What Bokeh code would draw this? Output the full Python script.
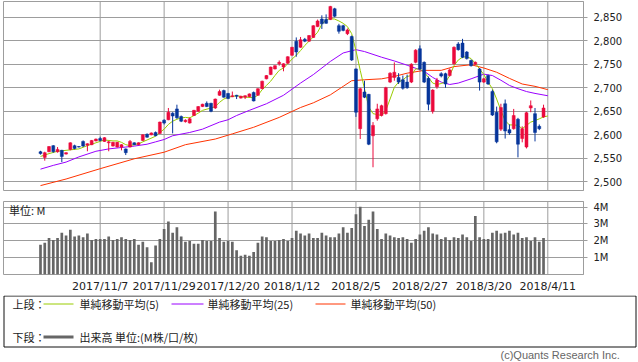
import numpy as np
import pandas as pd
from bokeh.plotting import figure
from bokeh.models import ColumnDataSource, Range1d, FixedTicker, Label, NumeralTickFormatter, Span
from bokeh.layouts import column
from bokeh.embed import file_html
from bokeh.resources import INLINE
from bokeh.core.properties import value

# ---------------- data ----------------
tick_pos = [14, 29, 44, 59, 74, 89, 104, 119]
tick_labels = ["2017/11/7", "2017/11/29", "2017/12/20", "2018/1/12",
               "2018/2/5", "2018/2/27", "2018/3/20", "2018/4/11"]

opens = [2564, 2552, 2564, 2577, 2564, 2567, 2559, 2569, 2577, 2575,
         2586, 2578, 2579, 2587, 2592, 2586, 2583, 2576, 2574, 2574,
         2570, 2574, 2583, 2579, 2588, 2601, 2600, 2605, 2603, 2631,
         2632, 2646, 2655, 2639, 2628, 2625, 2641, 2650, 2660, 2667,
         2667, 2657, 2684, 2694, 2688, 2681, 2684, 2678, 2680, 2681,
         2690, 2684, 2698, 2719, 2728, 2740, 2751, 2744, 2752, 2769,
         2799, 2786, 2803, 2799, 2807, 2830, 2846, 2845, 2845, 2868,
         2832, 2832, 2815, 2809, 2740, 2613, 2691, 2686, 2598, 2634,
         2641, 2645, 2712, 2722, 2722, 2717, 2712, 2712, 2754, 2783,
         2754, 2720, 2650, 2702, 2730, 2730, 2726, 2751, 2793, 2795,
         2776, 2758, 2750, 2740, 2712, 2726, 2692, 2648, 2612, 2666,
         2611, 2613, 2633, 2592, 2574, 2657, 2645, 2618, 2638]
highs = [2566, 2564, 2576, 2578, 2574, 2568, 2563, 2584, 2579, 2576,
         2588, 2582, 2589, 2592, 2596, 2595, 2587, 2585, 2585, 2580,
         2571, 2589, 2584, 2584, 2601, 2603, 2605, 2607, 2628, 2633,
         2657, 2648, 2664, 2641, 2633, 2637, 2653, 2661, 2666, 2671,
         2668, 2677, 2696, 2696, 2689, 2692, 2685, 2683, 2684, 2688,
         2692, 2699, 2715, 2727, 2745, 2748, 2758, 2752, 2767, 2787,
         2807, 2808, 2806, 2812, 2833, 2845, 2854, 2856, 2874, 2870,
         2836, 2834, 2826, 2811, 2741, 2700, 2715, 2687, 2627, 2666,
         2664, 2702, 2733, 2754, 2731, 2726, 2728, 2752, 2782, 2790,
         2756, 2724, 2697, 2721, 2733, 2732, 2741, 2788, 2797, 2804,
         2778, 2760, 2756, 2742, 2721, 2728, 2696, 2660, 2666, 2675,
         2622, 2655, 2636, 2618, 2649, 2673, 2657, 2622, 2664]
lows = [2558, 2545, 2563, 2562, 2562, 2542, 2558, 2567, 2569, 2573,
        2574, 2565, 2578, 2586, 2586, 2585, 2565, 2575, 2573, 2567,
        2557, 2573, 2578, 2578, 2587, 2594, 2599, 2597, 2602, 2622,
        2631, 2603, 2634, 2627, 2626, 2624, 2640, 2649, 2659, 2659,
        2648, 2655, 2683, 2679, 2676, 2680, 2676, 2677, 2676, 2680,
        2671, 2683, 2697, 2718, 2727, 2739, 2747, 2735, 2751, 2768,
        2766, 2785, 2797, 2798, 2806, 2829, 2825, 2836, 2844, 2850,
        2815, 2820, 2812, 2757, 2638, 2591, 2678, 2578, 2531, 2630,
        2639, 2643, 2710, 2715, 2708, 2696, 2698, 2710, 2752, 2738,
        2710, 2652, 2645, 2698, 2722, 2700, 2724, 2749, 2779, 2763,
        2760, 2745, 2748, 2694, 2710, 2706, 2640, 2582, 2608, 2592,
        2600, 2611, 2552, 2584, 2571, 2648, 2586, 2610, 2636]
closes = [2560, 2562, 2575, 2564, 2569, 2554, 2562, 2583, 2571, 2574,
          2576, 2581, 2588, 2591, 2588, 2594, 2585, 2584, 2584, 2579,
          2562, 2586, 2579, 2583, 2600, 2595, 2604, 2598, 2627, 2625,
          2648, 2640, 2636, 2629, 2631, 2634, 2652, 2660, 2665, 2660,
          2650, 2676, 2692, 2680, 2677, 2683, 2682, 2682, 2683, 2687,
          2672, 2698, 2714, 2726, 2744, 2747, 2754, 2751, 2766, 2786,
          2776, 2802, 2799, 2811, 2832, 2842, 2836, 2837, 2873, 2852,
          2820, 2822, 2823, 2759, 2648, 2698, 2680, 2580, 2620, 2655,
          2662, 2700, 2731, 2733, 2712, 2699, 2700, 2750, 2780, 2740,
          2712, 2665, 2695, 2716, 2725, 2708, 2738, 2786, 2781, 2765,
          2762, 2747, 2754, 2712, 2719, 2708, 2642, 2585, 2658, 2608,
          2604, 2641, 2580, 2613, 2647, 2662, 2605, 2613, 2657]

# volume, millions
volumes = [1.77, 1.88, 2.16, 2.05, 2.16, 2.48, 2.32, 2.65, 2.26, 2.32,
           2.21, 2.43, 2.05, 2.10, 2.10, 2.10, 2.26, 2.05, 2.10, 2.21,
           2.10, 2.05, 2.10, 1.77, 1.94, 1.61, 0.73, 1.72, 2.10, 2.70,
           3.14, 2.48, 2.81, 2.26, 1.94, 1.99, 1.83, 1.83, 2.05, 1.99,
           1.99, 3.74, 2.16, 1.94, 1.99, 1.94, 1.44, 1.11, 1.17, 1.11,
           1.33, 1.88, 2.26, 2.21, 1.99, 1.99, 2.05, 2.10, 1.99, 2.16,
           2.59, 2.43, 2.32, 2.43, 2.16, 2.16, 2.48, 2.32, 2.21, 2.21,
           2.43, 2.81, 2.48, 2.76, 3.58, 4.02, 2.87, 3.25, 3.74, 2.70,
           2.10, 2.43, 2.32, 2.21, 2.16, 2.21, 2.10, 1.88, 2.10, 2.37,
           2.59, 2.81, 2.43, 2.37, 2.10, 2.21, 2.05, 2.21, 2.16, 2.37,
           2.21, 1.99, 3.47, 2.21, 2.10, 2.10, 2.48, 2.59, 2.43, 2.48,
           2.59, 2.37, 2.48, 2.16, 2.21, 1.99, 2.21, 1.94, 2.16]

ma5_x = [0, 2, 4, 5, 7, 9, 11, 13, 14, 15, 17, 18, 19, 20, 21, 22, 23, 25, 27, 28,
         29, 30, 31, 32, 33, 34, 35, 36, 37, 38, 40, 41, 42, 43, 44, 46, 48, 50, 51, 52,
         53, 54, 55, 56, 57, 58, 59, 60, 61, 62, 63, 64, 65, 66, 67, 68, 69, 70, 71, 72,
         73, 74, 75, 76, 77, 78, 79, 80, 81, 82, 83, 84, 85, 86, 87, 88, 89, 90, 91, 92,
         93, 94, 95, 96, 97, 98, 99, 100, 101, 102, 103, 104, 105, 106, 107, 108, 109, 110, 111, 112,
         113, 114, 115, 116, 117, 118, 119]
ma5 = [2554, 2560, 2565, 2566, 2568, 2570, 2577, 2583, 2586, 2589, 2587, 2587, 2584, 2579, 2577, 2579, 2581, 2589, 2597, 2605,
       2612, 2622, 2629, 2633, 2636, 2637, 2636, 2641, 2646, 2652, 2657, 2660, 2669, 2676, 2680, 2683, 2680, 2679, 2684, 2696,
       2705, 2714, 2726, 2737, 2742, 2751, 2761, 2769, 2779, 2790, 2799, 2808, 2818, 2835, 2845, 2847, 2846, 2842, 2837, 2830,
       2815, 2779, 2737, 2698, 2659, 2645, 2643, 2641, 2652, 2676, 2701, 2712, 2717, 2724, 2726, 2740, 2740, 2733, 2722, 2710,
       2707, 2709, 2712, 2726, 2747, 2759, 2765, 2766, 2762, 2752, 2740, 2728, 2712, 2698, 2676, 2652, 2630, 2621, 2621, 2620,
       2613, 2620, 2627, 2630, 2634, 2638, 2640]

ma25_x = [0, 3, 6, 9, 13, 16, 20, 22, 25, 27, 29, 31, 35, 38, 42, 44, 46, 49, 53, 57,
          61, 64, 68, 71, 74, 76, 80, 83, 86, 90, 92, 94, 96, 98, 101, 104, 106, 108, 110, 112,
          114, 116, 119]
ma25 = [2527, 2535, 2542, 2553, 2565, 2570, 2574, 2576, 2580, 2585, 2590, 2598, 2605, 2612, 2627, 2632, 2641, 2652, 2666, 2684,
        2710, 2728, 2756, 2774, 2781, 2777, 2765, 2757, 2748, 2735, 2722, 2712, 2707, 2710, 2719, 2729, 2726, 2716, 2705, 2698,
        2692, 2688, 2683]

ma50_x = [0, 6, 14, 22, 29, 34, 41, 45, 50, 56, 61, 64, 68, 71, 73, 76, 80, 83, 86, 90,
          94, 97, 101, 104, 107, 110, 113, 116, 119]
ma50 = [2492, 2506, 2528, 2549, 2563, 2579, 2591, 2602, 2616, 2637, 2658, 2668, 2685, 2703, 2715, 2717, 2719, 2724, 2731, 2737,
        2737, 2745, 2749, 2742, 2733, 2720, 2708, 2703, 2696]

price_ticks = [2500, 2550, 2600, 2650, 2700, 2750, 2800, 2850]
vol_ticks = [1, 2, 3, 4]
vol_tick_labels = ["1M", "2M", "3M", "4M"]

# ---------------- styles ----------------
UP = "#EB0A3C"
DOWN = "#06359A"
GRID = "#9d9d9d"
NUM_FONT = "DejaVu Sans"
JP_FONT = "Noto Sans CJK JP"
W = 638

px_per_bar = 4.263
x_start = (3 - 40) / px_per_bar
x_end = x_start + 580 / px_per_bar
xr = Range1d(x_start, x_end)

idx = np.arange(len(opens))
df = pd.DataFrame(dict(x=idx, o=opens, h=highs, l=lows, c=closes))
df["top"] = df[["o", "c"]].max(axis=1)
df["bottom"] = df[["o", "c"]].min(axis=1)
up = ColumnDataSource(df[df.c >= df.o])
dn = ColumnDataSource(df[df.c < df.o])


def style_right_axis(ax):
    ax.axis_line_color = GRID
    ax.major_tick_line_color = GRID
    ax.major_tick_in = 0
    ax.major_tick_out = 4
    ax.minor_tick_line_color = None
    ax.major_label_standoff = 6
    ax.major_label_text_font = NUM_FONT
    ax.major_label_text_font_size = "10px"
    ax.major_label_text_color = "#222222"


def add_vgrid(p):
    for t in tick_pos:
        p.add_layout(Span(location=t, dimension="height", line_color=GRID,
                          line_width=1, level="underlay"))


# ---------------- price panel ----------------
p1 = figure(width=W, height=195, x_range=xr, y_range=Range1d(2481.6, 2883.4),
            output_backend="svg", toolbar_location=None,
            x_axis_location=None, y_axis_location="right",
            min_border_left=3, min_border_right=55, min_border_top=1, min_border_bottom=5)
p1.outline_line_color = GRID
p1.xgrid.visible = False
p1.ygrid.ticker = FixedTicker(ticks=price_ticks)
p1.ygrid.grid_line_color = GRID
p1.yaxis.ticker = FixedTicker(ticks=price_ticks)
p1.yaxis.formatter = NumeralTickFormatter(format="0,0")
style_right_axis(p1.yaxis)
add_vgrid(p1)

p1.line(ma50_x, ma50, line_color="#FF3300", line_width=1)
p1.line(ma25_x, ma25, line_color="#9A00FF", line_width=1)
p1.line(ma5_x, ma5, line_color="#99CC00", line_width=1)

p1.segment(x0="x", y0="h", x1="x", y1="l", source=up, line_color=UP, line_width=1)
p1.segment(x0="x", y0="h", x1="x", y1="l", source=dn, line_color=DOWN, line_width=1)
p1.vbar(x="x", top="top", bottom="bottom", width=0.7, source=up,
        fill_color=UP, line_color=UP, line_width=0.5)
p1.vbar(x="x", top="top", bottom="bottom", width=0.7, source=dn,
        fill_color=DOWN, line_color=DOWN, line_width=0.5)

# ---------------- volume panel ----------------
p2 = figure(width=W, height=100, x_range=xr, y_range=Range1d(0, 4.33),
            output_backend="svg", toolbar_location=None,
            y_axis_location="right",
            min_border_left=3, min_border_right=55, min_border_top=6, min_border_bottom=15)
p2.outline_line_color = GRID
p2.xgrid.visible = False
p2.ygrid.ticker = FixedTicker(ticks=vol_ticks)
p2.ygrid.grid_line_color = GRID
add_vgrid(p2)
p2.xaxis.ticker = FixedTicker(ticks=tick_pos)
p2.xaxis.major_label_overrides = {t: l for t, l in zip(tick_pos, tick_labels)}
p2.xaxis.axis_line_color = None
p2.xaxis.major_tick_line_color = None
p2.xaxis.minor_tick_line_color = None
p2.xaxis.major_tick_out = 0
p2.xaxis.major_tick_in = 0
p2.xaxis.major_label_standoff = 5
p2.xaxis.major_label_text_font = NUM_FONT
p2.xaxis.major_label_text_font_size = "11px"
p2.xaxis.major_label_text_color = "#222222"
p2.yaxis.ticker = FixedTicker(ticks=vol_ticks)
p2.yaxis.major_label_overrides = {t: l for t, l in zip(vol_ticks, vol_tick_labels)}
style_right_axis(p2.yaxis)

p2.vbar(x=idx, top=volumes, width=0.63, fill_color="#666666", line_color=None)
p2.add_layout(Label(x=(8.5 - 40) / px_per_bar, y=3.85, text="単位: M", text_font=JP_FONT,
                    text_font_size="11px", text_baseline="middle", text_color="#222222"))

# ---------------- legend panel ----------------
p3 = figure(width=W, height=67, x_range=Range1d(0, W), y_range=Range1d(0, 67),
            output_backend="svg", toolbar_location=None,
            x_axis_location=None, y_axis_location=None, min_border=0)
p3.frame_align = False
p3.grid.visible = False
p3.outline_line_color = None
p3.quad(left=[3.5], right=[635.5], top=[66.5], bottom=[15.5],
        fill_color=None, line_color="#111111", line_width=1)
legend_font = dict(text_font=value(JP_FONT), text_font_size="11px",
                   text_baseline="middle", text_align="left", text_color="#222222")
p3.text(x=[12, 79, 207, 350, 12, 79], y=[58.7, 58.7, 58.7, 58.7, 25.3, 25.3],
        text=["上段：", "単純移動平均(5)", "単純移動平均(25)", "単純移動平均(50)",
              "下段：", "出来高 単位:(M株/口/枚)"], **legend_font)
p3.segment(x0=[43, 171, 315], y0=[58.5] * 3, x1=[73, 203, 345], y1=[58.5] * 3,
           line_color=["#99CC00", "#9A00FF", "#FF3300"], line_width=1)
p3.segment(x0=[43], y0=[25.5], x1=[73], y1=[25.5], line_color="#666666", line_width=3)
p3.text(x=[500], y=[8.0], text=["(c)Quants Research Inc."], text_font=value("Liberation Sans"),
        text_font_size="11px", text_baseline="alphabetic", text_align="left", text_color="#666666")

layout = column(p1, p2, p3, spacing=0)
open("out.html", "w").write(file_html(layout, INLINE))
